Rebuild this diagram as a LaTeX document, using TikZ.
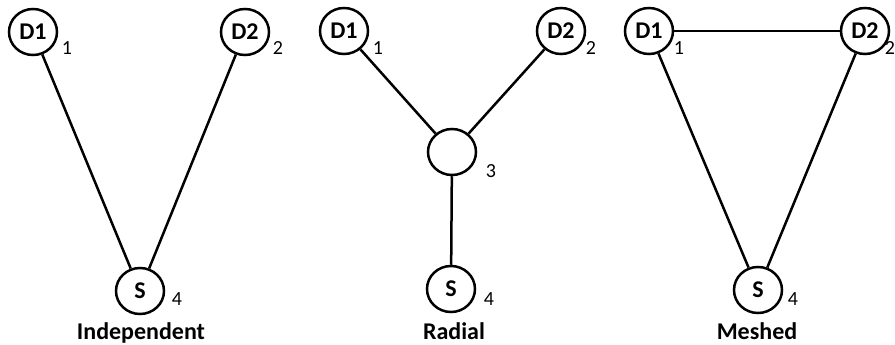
\documentclass[tikz,border=0pt]{standalone}
\usepackage{fontspec}
\setmainfont{Carlito}
\usetikzlibrary{shapes.geometric}
\begin{document}
\begin{tikzpicture}[x=1pt,y=-1pt,
  bus/.style={ellipse,draw,line width=2.5pt,minimum width=48pt,minimum height=46pt,inner sep=0pt,font=\fontsize{24}{24}\selectfont\bfseries},
  idx/.style={anchor=base,font=\fontsize{20}{20}\selectfont},
  title/.style={anchor=base,font=\fontsize{24}{24}\selectfont\bfseries},
  link/.style={line width=2.5pt}]
\useasboundingbox (0,0) rectangle (895,345);
% Independent
\node[bus] (a1) at (33,32) {D1};
\node[idx] (a1n) at (67,55) {1};
\node[bus] (a2) at (245,32) {D2};
\node[idx] (a2n) at (278,55) {2};
\node[bus] (as) at (140,291) {S};
\node[idx] (asn) at (177,305) {4};
\node[title] (at) at (141,339) {Independent};
\draw[link] (a1) -- (as);
\draw[link] (a2) -- (as);
% Radial
\node[bus] (r1) at (344,31) {D1};
\node[idx] (r1n) at (378,55) {1};
\node[bus] (r2) at (561,31) {D2};
\node[idx] (r2n) at (591,55) {2};
\node[bus] (r3) at (452,152) {};
\node[idx] (r3n) at (491,177) {3};
\node[bus] (rs) at (451,289) {S};
\node[idx] (rsn) at (489,305) {4};
\node[title] (rt) at (454,339) {Radial};
\draw[link] (r1) -- (r3);
\draw[link] (r2) -- (r3);
\draw[link] (r3) -- (rs);
% Meshed
\node[bus] (m1) at (649,31) {D1};
\node[idx] (m1n) at (679,55) {1};
\node[bus] (m2) at (865,31) {D2};
\node[idx] (m2n) at (890,55) {2};
\node[bus] (ms) at (758,290) {S};
\node[idx] (msn) at (793,305) {4};
\node[title] (mt) at (757,339) {Meshed};
\draw[link] (m1) -- (m2);
\draw[link] (m1) -- (ms);
\draw[link] (m2) -- (ms);
\end{tikzpicture}
\end{document}
